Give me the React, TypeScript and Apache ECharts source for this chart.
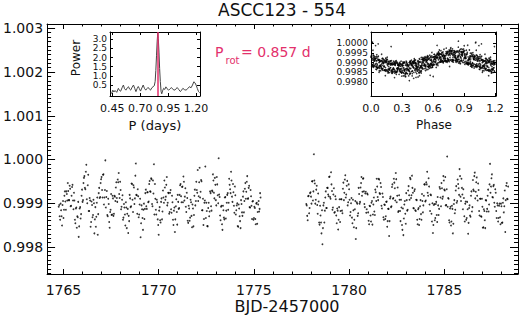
import React, { useEffect, useRef } from "react";
import * as echarts from "echarts";

// ---- data: [BJD-2457000, relative flux] ----
const segA: number[][] = [
[1764.75,0.99892],[1764.80,0.99870],[1764.85,0.99899],[1764.90,0.99870],[1764.95,0.99896],[1765.00,0.99866],[1765.05,0.99917],[1765.10,0.99904],[1765.15,0.99927],[1765.20,0.99906],[1765.25,0.99928],[1765.30,0.99907],[1765.35,0.99933],[1765.40,0.99894],[1765.45,0.99937],[1765.50,0.99906],[1765.55,0.99924],[1765.60,0.99862],[1765.65,0.99888],[1765.70,0.99844],[1765.75,0.99868],[1765.80,0.99823],[1765.85,0.99888],[1765.90,0.99865],[1765.95,0.99917],[1766.00,0.99903],[1766.05,0.99946],[1766.10,0.99962],[1766.15,0.99932],[1766.20,0.99988],[1766.25,0.99900],[1766.30,0.99965],[1766.35,0.99882],[1766.40,0.99906],[1766.45,0.99857],[1766.50,0.99896],[1766.55,0.99873],[1766.60,0.99900],[1766.65,0.99863],[1766.70,0.99846],[1766.75,0.99901],[1766.80,0.99828],[1766.85,0.99923],[1766.90,0.99912],[1766.95,0.99946],[1767.00,0.99960],[1767.05,0.99913],[1767.10,0.99966],[1767.15,0.99913],[1767.20,0.99998],[1767.25,0.99914],[1767.30,0.99873],[1767.35,0.99910],[1767.40,0.99857],[1767.45,0.99880],[1767.50,0.99921],[1767.55,0.99874],[1767.60,0.99911],[1767.65,0.99876],[1767.70,0.99915],[1767.75,0.99936],[1767.80,0.99912],[1767.85,0.99954],[1767.90,0.99969],[1767.95,0.99912],[1768.00,0.99930],[1768.05,0.99892],[1768.10,0.99918],[1768.15,0.99867],[1768.20,0.99890],[1768.25,0.99849],[1768.30,0.99890],[1768.35,0.99876],[1768.40,0.99832],[1768.45,0.99859],[1768.50,0.99911],[1768.55,0.99893],[1768.60,0.99944],[1768.65,0.99880],[1768.70,0.99936],[1768.75,0.99911],[1768.80,0.99991],[1768.85,0.99918],[1768.90,0.99932],[1768.95,0.99868],[1769.00,0.99897],[1769.05,0.99822],[1769.10,0.99895],[1769.15,0.99866],[1769.20,0.99885],[1769.25,0.99864],[1769.30,0.99923],[1769.35,0.99893],[1769.40,0.99925],[1769.45,0.99902],[1769.50,0.99944],[1769.55,0.99927],[1769.60,0.99957],[1769.65,0.99898],[1769.70,0.99952],[1769.75,0.99989],[1769.80,0.99944],[1769.85,0.99885],[1769.90,0.99908],[1769.95,0.99863],[1770.00,0.99828],[1770.05,0.99891],[1770.10,0.99856],[1770.15,0.99911],[1770.20,0.99881],[1770.25,0.99913],[1770.30,0.99952],[1770.35,0.99908],[1770.40,0.99942],[1770.45,0.99895],[1770.50,0.99924],[1770.55,0.99876],[1770.60,0.99924],[1770.65,0.99886],[1770.70,0.99917],[1770.75,0.99862],[1770.80,0.99883],[1770.85,0.99834],[1770.90,0.99893],[1770.95,0.99880],[1771.00,0.99919],[1771.05,0.99887],[1771.10,0.99919],[1771.15,0.99944],[1771.20,0.99902],[1771.25,0.99938],[1771.30,0.99961],[1771.35,0.99906],[1771.40,0.99934],[1771.45,0.99880],[1771.50,0.99912],[1771.55,0.99855],[1771.60,0.99888],[1771.65,0.99867],[1771.70,0.99902],[1771.75,0.99845],[1771.80,0.99888],[1771.85,0.99873],[1771.90,0.99931],[1771.95,0.99905],[1772.00,0.99930],[1772.05,0.99976],[1772.10,0.99916],[1772.15,0.99981],[1772.20,0.99926],[1772.25,0.99950],[1772.30,0.99884],[1772.35,0.99850],[1772.40,0.99901],[1772.45,0.99984],[1772.50,0.99901],[1772.55,0.99848],[1772.60,0.99889],[1772.65,0.99870],[1772.70,0.99927],[1772.75,0.99893],[1772.80,0.99929],[1772.85,0.99966],[1772.90,0.99924],[1772.95,0.99958],[1773.00,0.99907],[1773.05,0.99960],[1773.10,0.99918],[1773.15,1.00003],[1773.20,0.99914],[1773.25,0.99861],[1773.30,0.99894],[1773.35,0.99839],[1773.40,0.99884],[1773.45,0.99863],[1773.50,0.99914],[1773.55,0.99883],[1773.60,0.99919],[1773.65,0.99885],[1773.70,0.99956],[1773.75,0.99932],[1773.80,0.99972],[1773.85,0.99915],[1773.90,0.99944],[1773.95,0.99894],[1774.00,0.99938],[1774.05,0.99874],[1774.10,0.99895],[1774.15,0.99848],[1774.20,0.99897],[1774.25,0.99870],[1774.30,0.99843],[1774.35,0.99898],[1774.40,0.99871],[1774.45,0.99927],[1774.50,0.99905],[1774.55,0.99946],[1774.60,0.99926],[1774.65,0.99962],[1774.70,0.99911],[1774.75,0.99940],[1774.80,0.99890],[1774.85,0.99916],[1774.90,0.99864],[1774.95,0.99905],[1775.00,0.99866],[1775.05,0.99889],[1775.10,0.99852],[1775.15,0.99901],[1775.20,0.99880],[1775.25,0.99905],[1775.30,0.99887],[1775.35,0.99913],
[1764.775,0.99896],[1764.825,0.99862],[1764.875,0.99884],[1764.925,0.99849],[1764.975,0.99905],[1765.025,0.99885],[1765.075,0.99927],[1765.125,0.99885],[1765.175,0.99921],[1765.225,0.99946],[1765.275,0.99907],[1765.325,0.99940],[1765.375,0.99893],[1765.425,0.99917],[1765.475,0.99942],[1765.525,0.99886],[1765.575,0.99906],
[1765.625,0.99854],[1765.675,0.99890],[1765.725,0.99870],[1765.775,0.99903],[1765.825,0.99847],[1765.875,0.99891],[1765.925,0.99875],[1765.975,0.99931],[1766.025,0.99907],[1766.075,0.99958],[1766.125,0.99935],[1766.175,0.99972],[1766.225,0.99909],[1766.275,0.99941],[1766.325,0.99882],[1766.375,0.99912],[1766.425,0.99846],
[1766.475,0.99904],[1766.525,0.99868],[1766.575,0.99908],[1766.625,0.99831],[1766.675,0.99891],[1766.725,0.99869],[1766.775,0.99913],[1766.825,0.99875],[1766.875,0.99935],[1766.925,0.99914],[1766.975,0.99955],[1767.025,0.99930],[1767.075,0.99965],[1767.125,0.99897],[1767.175,0.99930],[1767.225,0.99890],[1767.275,0.99928],
[1767.325,0.99870],[1767.375,0.99898],[1767.425,0.99844],[1767.475,0.99885],[1767.525,0.99873],[1767.575,0.99917],[1767.625,0.99871],[1767.675,0.99917],[1767.725,0.99905],[1767.775,0.99948],[1767.825,0.99903],[1767.875,0.99948],[1767.925,0.99921],[1767.975,0.99949],[1768.025,0.99886],[1768.075,0.99908],[1768.125,0.99862],
[1768.175,0.99898],[1768.225,0.99874],[1768.275,0.99902],[1768.325,0.99843],[1768.375,0.99887],[1768.425,0.99871],[1768.475,0.99919],[1768.525,0.99891],[1768.575,0.99945],[1768.625,0.99908],[1768.675,0.99941],[1768.725,0.99898],[1768.775,0.99963],[1768.825,0.99919],[1768.875,0.99876],[1768.925,0.99916],[1768.975,0.99874],
[1769.025,0.99910],[1769.075,0.99854],[1769.125,0.99886],[1769.175,0.99839],[1769.225,0.99899],[1769.275,0.99887],[1769.325,0.99931],[1769.375,0.99887],[1769.425,0.99925],[1769.475,0.99904],[1769.525,0.99951],[1769.575,0.99926],[1769.625,0.99955],[1769.675,0.99893],[1769.725,0.99922],[1769.775,0.99874],[1769.825,0.99910],
[1769.875,0.99874],[1769.925,0.99902],[1769.975,0.99850],[1770.025,0.99883],[1770.075,0.99861],[1770.125,0.99903],[1770.175,0.99863],[1770.225,0.99929],[1770.275,0.99901],[1770.325,0.99936],[1770.375,0.99915],[1770.425,0.99960],[1770.475,0.99901],[1770.525,0.99923],[1770.575,0.99880],[1770.625,0.99930],[1770.675,0.99878],
[1770.725,0.99902],[1770.775,0.99850],[1770.825,0.99890],[1770.875,0.99863],[1770.925,0.99909],[1770.975,0.99851],[1771.025,0.99903],[1771.075,0.99889],[1771.125,0.99941],[1771.175,0.99916],[1771.225,0.99937],[1771.275,0.99902],[1771.325,0.99949],[1771.375,0.99915],[1771.425,0.99892],[1771.475,0.99924],[1771.525,0.99860],
[1771.575,0.99894],[1771.625,0.99860],[1771.675,0.99908],[1771.725,0.99871],[1771.775,0.99897],[1771.825,0.99847],[1771.875,0.99917],[1771.925,0.99895],[1771.975,0.99949],[1772.025,0.99924],[1772.075,0.99905],[1772.125,0.99948],[1772.175,0.99913],[1772.225,0.99953],[1772.275,0.99884],[1772.325,0.99910],[1772.375,0.99864],
[1772.425,0.99906],[1772.475,0.99866],[1772.525,0.99882],[1772.575,0.99847],[1772.625,0.99901],[1772.675,0.99881],[1772.725,0.99923],[1772.775,0.99883],[1772.825,0.99927],[1772.875,0.99952],[1772.925,0.99911],[1772.975,0.99942],[1773.025,0.99895],[1773.075,0.99943],[1773.125,0.99900],[1773.175,0.99920],[1773.225,0.99872],
[1773.275,0.99892],[1773.325,0.99852],[1773.375,0.99894],[1773.425,0.99867],[1773.475,0.99913],[1773.525,0.99865],[1773.575,0.99901],[1773.625,0.99923],[1773.675,0.99901],[1773.725,0.99942],[1773.775,0.99923],[1773.825,0.99952],[1773.875,0.99903],[1773.925,0.99925],[1773.975,0.99878],[1774.025,0.99918],[1774.075,0.99884],
[1774.125,0.99900],[1774.175,0.99846],[1774.225,0.99888],[1774.275,0.99859],[1774.325,0.99907],[1774.375,0.99879],[1774.425,0.99915],[1774.475,0.99879],[1774.525,0.99933],[1774.575,0.99910],[1774.625,0.99949],[1774.675,0.99910],[1774.725,0.99935],[1774.775,0.99891],[1774.825,0.99930],[1774.875,0.99894],[1774.925,0.99904],
[1774.975,0.99862],[1775.025,0.99892],[1775.075,0.99864],[1775.125,0.99899],[1775.175,0.99853],[1775.225,0.99897],[1775.275,0.99881],[1775.325,0.99923]
];

const segB: number[][] = [
[1777.75,0.99898],[1777.80,0.99871],[1777.85,0.99916],[1777.90,0.99877],[1777.95,0.99923],[1778.00,0.99915],[1778.05,0.99950],[1778.10,0.99906],[1778.15,1.00012],[1778.20,0.99945],[1778.25,0.99908],[1778.30,0.99940],[1778.35,0.99876],[1778.40,0.99904],[1778.45,0.99851],[1778.50,0.99872],[1778.55,0.99831],[1778.60,0.99806],[1778.65,0.99895],[1778.70,0.99856],[1778.75,0.99913],[1778.80,0.99889],[1778.85,0.99935],[1778.90,0.99920],[1778.95,0.99960],[1779.00,0.99914],[1779.05,0.99971],[1779.10,0.99928],[1779.15,0.99890],[1779.20,0.99934],[1779.25,0.99880],[1779.30,0.99909],[1779.35,0.99854],[1779.40,0.99883],[1779.45,0.99862],[1779.50,0.99909],[1779.55,0.99882],[1779.60,0.99909],[1779.65,0.99877],[1779.70,0.99947],[1779.75,0.99924],[1779.80,0.99964],[1779.85,0.99920],[1779.90,0.99951],[1779.95,0.99902],[1780.00,0.99932],[1780.05,0.99872],[1780.10,0.99900],[1780.15,0.99867],[1780.20,0.99908],[1780.25,0.99845],[1780.30,0.99886],[1780.35,0.99818],[1780.40,0.99902],[1780.45,0.99871],[1780.50,0.99935],[1780.55,0.99899],[1780.60,0.99936],[1780.65,0.99960],[1780.70,0.99926],[1780.75,0.99957],[1780.80,0.99898],[1780.85,0.99922],[1780.90,0.99878],[1780.95,0.99922],[1781.00,0.99879],[1781.05,0.99852],[1781.10,0.99893],[1781.15,0.99858],[1781.20,0.99905],[1781.25,0.99874],[1781.30,0.99913],[1781.35,0.99873],[1781.40,0.99925],[1781.45,0.99956],[1781.50,0.99914],[1781.55,0.99956],[1781.60,0.99923],[1781.65,0.99946],[1781.70,0.99894],[1781.75,0.99922],[1781.80,0.99868],[1781.85,0.99897],[1781.90,0.99864],[1781.95,0.99903],[1782.00,0.99846],[1782.05,0.99887],[1782.10,0.99825],[1782.15,0.99911],[1782.20,0.99891],[1782.25,0.99937],[1782.30,0.99910],[1782.35,0.99956],[1782.40,0.99934],[1782.45,0.99969],[1782.50,0.99902],[1782.55,0.99936],[1782.60,0.99882],[1782.65,0.99908],[1782.70,0.99859],[1782.75,0.99890],[1782.80,0.99839],[1782.85,0.99827],[1782.90,0.99897],[1782.95,0.99876],[1783.00,0.99923],[1783.05,0.99883],[1783.10,0.99929],[1783.15,0.99918],[1783.20,0.99958],[1783.25,0.99912],[1783.30,0.99963],[1783.35,0.99924],[1783.40,0.99888],[1783.45,0.99932],[1783.50,0.99882],[1783.55,0.99907],[1783.60,0.99852],[1783.65,0.99889],[1783.70,0.99864],[1783.75,0.99907],[1783.80,0.99862],[1783.85,0.99905],[1783.90,0.99895],[1783.95,0.99943],[1784.00,0.99904],[1784.05,0.99948],[1784.10,0.99972],[1784.15,0.99917],[1784.20,0.99938],[1784.25,0.99882],[1784.30,0.99918],[1784.35,0.99858],[1784.40,0.99832],[1784.45,0.99896],[1784.50,0.99861],[1784.55,0.99898],[1784.60,0.99873],[1784.65,0.99914],[1784.70,0.99873],[1784.75,0.99937],[1784.80,0.99913],[1784.85,0.99946],[1784.90,0.99910],[1784.95,0.99962],[1785.00,0.99931],[1785.05,0.99960],[1785.10,0.99896],[1785.15,1.00007],[1785.20,0.99912],[1785.25,0.99861],[1785.30,0.99888],[1785.35,0.99849],[1785.40,0.99894],[1785.45,0.99831],[1785.50,0.99898],[1785.55,0.99877],[1785.60,0.99929],[1785.65,0.99901],[1785.70,0.99954],[1785.75,0.99934],[1785.80,0.99978],[1785.85,0.99915],[1785.90,0.99956],[1785.95,0.99920],[1786.00,0.99932],[1786.05,0.99870],[1786.10,0.99899],[1786.15,0.99862],[1786.20,0.99903],[1786.25,0.99830],[1786.30,0.99889],[1786.35,0.99872],[1786.40,0.99917],[1786.45,0.99881],[1786.50,0.99953],[1786.55,0.99928],[1786.60,0.99970],[1786.65,0.99926],[1786.70,0.99959],[1786.75,0.99906],[1786.80,0.99930],[1786.85,0.99872],[1786.90,0.99910],[1786.95,0.99869],[1787.00,0.99892],[1787.05,0.99845],[1787.10,0.99882],[1787.15,0.99843],[1787.20,0.99906],[1787.25,0.99887],[1787.30,0.99931],[1787.35,0.99897],[1787.40,0.99990],[1787.45,0.99938],[1787.50,0.99966],[1787.55,0.99913],[1787.60,0.99942],[1787.65,0.99892],[1787.70,0.99924],[1787.75,0.99866],[1787.80,0.99895],[1787.85,0.99866],[1787.90,0.99899],[1787.95,0.99852],[1788.00,0.99893],[1788.05,0.99856],[1788.10,0.99911],[1788.15,0.99893],[1788.20,0.99834],[1788.25,0.99940],[1788.30,0.99910],[1788.35,0.99938],
[1777.775,0.99895],[1777.825,0.99861],[1777.875,0.99917],[1777.925,0.99889],[1777.975,0.99925],[1778.025,0.99899],[1778.075,0.99950],[1778.125,0.99927],[1778.175,0.99952],[1778.225,0.99899],[1778.275,0.99931],[1778.325,0.99896],[1778.375,0.99922],[1778.425,0.99856],[1778.475,0.99894],[1778.525,0.99856],[1778.575,0.99884],
[1778.625,0.99843],[1778.675,0.99901],[1778.725,0.99883],[1778.775,0.99927],[1778.825,0.99889],[1778.875,0.99935],[1778.925,0.99916],[1778.975,0.99961],[1779.025,0.99910],[1779.075,0.99943],[1779.125,0.99885],[1779.175,0.99920],[1779.225,0.99878],[1779.275,0.99916],[1779.325,0.99872],[1779.375,0.99888],[1779.425,0.99840],
[1779.475,0.99891],[1779.525,0.99857],[1779.575,0.99909],[1779.625,0.99883],[1779.675,0.99933],[1779.725,0.99907],[1779.775,0.99954],[1779.825,0.99913],[1779.875,0.99940],[1779.925,0.99895],[1779.975,0.99943],[1780.025,0.99908],[1780.075,0.99880],[1780.125,0.99912],[1780.175,0.99854],[1780.225,0.99884],[1780.275,0.99862],
[1780.325,0.99905],[1780.375,0.99843],[1780.425,0.99899],[1780.475,0.99877],[1780.525,0.99921],[1780.575,0.99903],[1780.625,0.99946],[1780.675,0.99917],[1780.725,0.99956],[1780.775,0.99927],[1780.825,0.99891],[1780.875,0.99926],[1780.925,0.99886],[1780.975,0.99920],[1781.025,0.99860],[1781.075,0.99894],[1781.125,0.99872],
[1781.175,0.99901],[1781.225,0.99851],[1781.275,0.99897],[1781.325,0.99881],[1781.375,0.99931],[1781.425,0.99905],[1781.475,0.99938],[1781.525,0.99907],[1781.575,0.99954],[1781.625,0.99921],[1781.675,0.99937],[1781.725,0.99888],[1781.775,0.99914],[1781.825,0.99862],[1781.875,0.99896],[1781.925,0.99870],[1781.975,0.99904],
[1782.025,0.99859],[1782.075,0.99887],[1782.125,0.99859],[1782.175,0.99915],[1782.225,0.99893],[1782.275,0.99943],[1782.325,0.99912],[1782.375,0.99947],[1782.425,0.99906],[1782.475,0.99955],[1782.525,0.99917],[1782.575,0.99880],[1782.625,0.99918],[1782.675,0.99882],[1782.725,0.99908],[1782.775,0.99850],[1782.825,0.99888],
[1782.875,0.99865],[1782.925,0.99905],[1782.975,0.99853],[1783.025,0.99907],[1783.075,0.99885],[1783.125,0.99939],[1783.175,0.99908],[1783.225,0.99955],[1783.275,0.99918],[1783.325,0.99935],[1783.375,0.99889],[1783.425,0.99928],[1783.475,0.99884],[1783.525,0.99908],[1783.575,0.99862],[1783.625,0.99886],[1783.675,0.99850],
[1783.725,0.99893],[1783.775,0.99875],[1783.825,0.99921],[1783.875,0.99879],[1783.925,0.99917],[1783.975,0.99943],[1784.025,0.99906],[1784.075,0.99943],[1784.125,0.99924],[1784.175,0.99957],[1784.225,0.99897],[1784.275,0.99920],[1784.325,0.99876],[1784.375,0.99900],[1784.425,0.99850],[1784.475,0.99898],[1784.525,0.99866],
[1784.575,0.99903],[1784.625,0.99857],[1784.675,0.99895],[1784.725,0.99887],[1784.775,0.99933],[1784.825,0.99893],[1784.875,0.99934],[1784.925,0.99915],[1784.975,0.99952],[1785.025,0.99929],[1785.075,0.99895],[1785.125,0.99932],[1785.175,0.99892],[1785.225,0.99910],[1785.275,0.99856],[1785.325,0.99892],[1785.375,0.99858],
[1785.425,0.99887],[1785.475,0.99853],[1785.525,0.99907],[1785.575,0.99885],[1785.625,0.99939],[1785.675,0.99905],[1785.725,0.99944],[1785.775,0.99919],[1785.825,0.99962],[1785.875,0.99905],[1785.925,0.99935],[1785.975,0.99886],[1786.025,0.99912],[1786.075,0.99858],[1786.125,0.99904],[1786.175,0.99866],[1786.225,0.99886],
[1786.275,0.99855],[1786.325,0.99895],[1786.375,0.99869],[1786.425,0.99927],[1786.475,0.99891],[1786.525,0.99931],[1786.575,0.99962],[1786.625,0.99911],[1786.675,0.99948],[1786.725,0.99917],[1786.775,0.99945],[1786.825,0.99882],[1786.875,0.99910],[1786.925,0.99870],[1786.975,0.99910],[1787.025,0.99844],[1787.075,0.99886],
[1787.125,0.99861],[1787.175,0.99907],[1787.225,0.99881],[1787.275,0.99917],[1787.325,0.99881],[1787.375,0.99943],[1787.425,0.99924],[1787.475,0.99957],[1787.525,0.99914],[1787.575,0.99939],[1787.625,0.99901],[1787.675,0.99932],[1787.725,0.99882],[1787.775,0.99900],[1787.825,0.99858],[1787.875,0.99894],[1787.925,0.99868],
[1787.975,0.99899],[1788.025,0.99855],[1788.075,0.99901],[1788.125,0.99879],[1788.175,0.99929],[1788.225,0.99907],[1788.275,0.99946],[1788.325,0.99909]
];

// periodogram: [period (days), power]
const periodogram: number[][] = [
[0.435,0.08],[0.445,0.05],[0.455,0.22],[0.465,0.12],[0.475,0.2],[0.49,0.1],[0.505,0.32],[0.515,0.2],[0.525,0.16],[0.54,0.38],[0.55,0.5],[0.56,0.3],[0.572,0.22],[0.585,0.35],[0.595,0.41],[0.605,0.28],[0.615,0.22],[0.628,0.38],[0.64,0.5],[0.652,0.3],[0.662,0.14],[0.672,0.3],[0.683,0.42],[0.693,0.3],[0.703,0.17],[0.715,0.34],[0.727,0.5],[0.738,0.32],[0.75,0.22],[0.76,0.3],[0.771,0.37],[0.782,0.28],[0.792,0.22],[0.804,0.35],[0.816,0.41],[0.826,0.46],[0.834,0.7],[0.84,1.3],[0.846,2.1],[0.852,2.9],[0.857,3.35],[0.862,3.05],[0.868,2.3],[0.874,1.4],[0.88,0.7],[0.887,0.15],[0.893,0.02],[0.9,0.18],[0.91,0.32],[0.92,0.26],[0.93,0.4],[0.94,0.3],[0.955,0.22],[0.968,0.3],[0.98,0.36],[0.995,0.25],[1.01,0.22],[1.02,0.3],[1.032,0.36],[1.045,0.25],[1.06,0.14],[1.07,0.22],[1.082,0.32],[1.095,0.25],[1.11,0.22],[1.125,0.3],[1.14,0.41],[1.155,0.35],[1.168,0.5],[1.18,0.68],[1.19,0.62],[1.2,0.5],[1.212,0.3],[1.222,0.14],[1.232,0.08]
];

const prot = 0.857;
const foldT0 = 1764.57;

const xMajor = [1765, 1770, 1775, 1780, 1785];
const yMajor = [0.998, 0.999, 1.0, 1.001, 1.002, 1.003];
const pTicks = [0.45, 0.7, 0.95, 1.2];
const powTicks = [0.5, 1.0, 1.5, 2.0, 2.5, 3.0];
const phTicks = [0.0, 0.3, 0.6, 0.9, 1.2];
const phFluxTicks = [0.998, 0.9985, 0.999, 0.9995, 1.0];

const PINK = "#e3306c";
const FONT = "DejaVu Sans";

export default function App() {
  const ref = useRef<HTMLDivElement>(null);
  useEffect(() => {
    if (!ref.current) return;
    const chart = echarts.init(ref.current, undefined, { renderer: "svg" });

    const xMinor: number[] = [];
    for (let d = 1765; d <= 1788; d++) xMinor.push(d);
    const yMinor: number[] = [];
    for (let i = 9974; i <= 10031; i++) yMinor.push(i / 10000);

    const phased: number[][] = [];
    for (const [t, f] of [...segA, ...segB]) {
      const ph = ((((t - foldT0) / prot) % 1) + 1) % 1;
      phased.push([ph, f]);
      if (ph < 0.2) phased.push([ph + 1, f]);
    }

    const ax = (o: any) => ({
      type: "value",
      gridIndex: o.grid,
      position: o.pos,
      min: o.min,
      max: o.max,
      splitLine: { show: false },
      axisLine: { show: o.line !== false, onZero: false, lineStyle: { color: "#000", width: 1 } },
      axisTick: { show: true, inside: true, length: o.len, customValues: o.ticks, lineStyle: { color: "#000", width: 1 } },
      axisLabel: o.labels
        ? {
            show: true,
            customValues: o.labels,
            formatter: o.fmt,
            fontSize: o.fs,
            lineHeight: o.lh,
            margin: o.margin,
            color: "#111",
            fontFamily: FONT,
            showMinLabel: true,
            showMaxLabel: true,
            hideOverlap: false,
          }
        : { show: false },
    });

    const xMin = 1764.14, xMax = 1788.87;
    const yMin = 0.99738, yMax = 1.0031;

    const option: any = {
      animation: false,
      backgroundColor: "#fff",
      textStyle: { fontFamily: FONT },
      grid: [
        { left: 47, top: 24, width: 471, height: 250 },
        { left: 110, top: 32, width: 90, height: 64, show: true, backgroundColor: "#fff", borderWidth: 0 },
        { left: 371, top: 32, width: 125, height: 64, show: true, backgroundColor: "#fff", borderWidth: 0 },
      ],
      xAxis: [
        ax({ grid: 0, pos: "bottom", min: xMin, max: xMax, ticks: xMajor, len: 5, labels: xMajor, fmt: (v: number) => String(v), fs: 14, margin: 9 }),
        ax({ grid: 0, pos: "bottom", min: xMin, max: xMax, ticks: xMinor, len: 2.5, line: false }),
        ax({ grid: 0, pos: "top", min: xMin, max: xMax, ticks: xMajor, len: 5 }),
        ax({ grid: 0, pos: "top", min: xMin, max: xMax, ticks: xMinor, len: 2.5, line: false }),
        ax({ grid: 1, pos: "bottom", min: 0.43, max: 1.235, ticks: pTicks, len: 3, labels: pTicks, fmt: (v: number) => v.toFixed(2), fs: 11, margin: 7 }),
        ax({ grid: 1, pos: "top", min: 0.43, max: 1.235, ticks: pTicks, len: 3 }),
        ax({ grid: 2, pos: "bottom", min: 0, max: 1.21, ticks: phTicks, len: 3, labels: phTicks, fmt: (v: number) => v.toFixed(1), fs: 11, margin: 7 }),
        ax({ grid: 2, pos: "top", min: 0, max: 1.21, ticks: phTicks, len: 3 }),
      ],
      yAxis: [
        ax({ grid: 0, pos: "left", min: yMin, max: yMax, ticks: yMajor, len: 8, labels: yMajor, fmt: (v: number) => v.toFixed(3), fs: 14, margin: 4 }),
        ax({ grid: 0, pos: "left", min: yMin, max: yMax, ticks: yMinor, len: 4, line: false }),
        ax({ grid: 0, pos: "right", min: yMin, max: yMax, ticks: yMajor, len: 8 }),
        ax({ grid: 0, pos: "right", min: yMin, max: yMax, ticks: yMinor, len: 4, line: false }),
        ax({ grid: 1, pos: "left", min: -0.1, max: 3.4, ticks: powTicks, len: 3, labels: powTicks, fmt: (v: number) => v.toFixed(1), fs: 9, lh: 9, margin: 3 }),
        ax({ grid: 1, pos: "right", min: -0.1, max: 3.4, ticks: powTicks, len: 3 }),
        ax({ grid: 2, pos: "left", min: 0.99726, max: 1.0006, ticks: phFluxTicks, len: 3, labels: phFluxTicks, fmt: (v: number) => v.toFixed(4), fs: 9, lh: 9, margin: 3 }),
        ax({ grid: 2, pos: "right", min: 0.99726, max: 1.0006, ticks: phFluxTicks, len: 3 }),
      ],
      series: [
        { type: "scatter", xAxisIndex: 0, yAxisIndex: 0, data: segA, symbol: "circle", symbolSize: 1.8, itemStyle: { color: "#000" }, silent: true },
        { type: "scatter", xAxisIndex: 0, yAxisIndex: 0, data: segB, symbol: "circle", symbolSize: 1.8, itemStyle: { color: "#000" }, silent: true },
        {
          type: "line",
          xAxisIndex: 4,
          yAxisIndex: 4,
          data: periodogram,
          showSymbol: false,
          symbol: "none",
          lineStyle: { color: "#444", width: 1 },
          silent: true,
          markLine: {
            silent: true,
            symbol: "none",
            label: { show: false },
            lineStyle: { color: PINK, width: 1.5, type: "solid" },
            data: [{ xAxis: prot }],
          },
        },
        { type: "scatter", xAxisIndex: 6, yAxisIndex: 6, data: phased, symbol: "circle", symbolSize: 1.6, itemStyle: { color: "#000" }, silent: true },
      ],
      graphic: [
        { type: "text", x: 282, y: 10, style: { text: "ASCC123 - 554", fontSize: 17, fontFamily: FONT, fill: "#111", align: "center", verticalAlign: "middle" } },
        { type: "text", x: 287, y: 306, style: { text: "BJD-2457000", fontSize: 16, fontFamily: FONT, fill: "#111", align: "center", verticalAlign: "middle" } },
        { type: "text", x: 155, y: 125, style: { text: "P (days)", fontSize: 13, fontFamily: FONT, fill: "#111", align: "center", verticalAlign: "middle" } },
        { type: "text", x: 434, y: 125, style: { text: "Phase", fontSize: 12, fontFamily: FONT, fill: "#111", align: "center", verticalAlign: "middle" } },
        { type: "text", x: 76, y: 58, rotation: Math.PI / 2, style: { text: "Power", fontSize: 12, fontFamily: FONT, fill: "#111", align: "center", verticalAlign: "middle" } },
        { type: "text", x: 215, y: 52, style: { text: "P", fontSize: 14, fontFamily: FONT, fill: PINK, align: "left", verticalAlign: "middle" } },
        { type: "text", x: 225.5, y: 60, style: { text: "rot", fontSize: 10, fontFamily: FONT, fill: PINK, align: "left", verticalAlign: "middle" } },
        { type: "text", x: 241, y: 52, style: { text: "= " + prot.toFixed(3) + " d", fontSize: 14, fontFamily: FONT, fill: PINK, align: "left", verticalAlign: "middle" } },
      ],
    };
    chart.setOption(option);
    return () => chart.dispose();
  }, []);
  return <div ref={ref} style={{ position: "absolute", left: 0, top: 0, width: 520, height: 316 }} />;
}
